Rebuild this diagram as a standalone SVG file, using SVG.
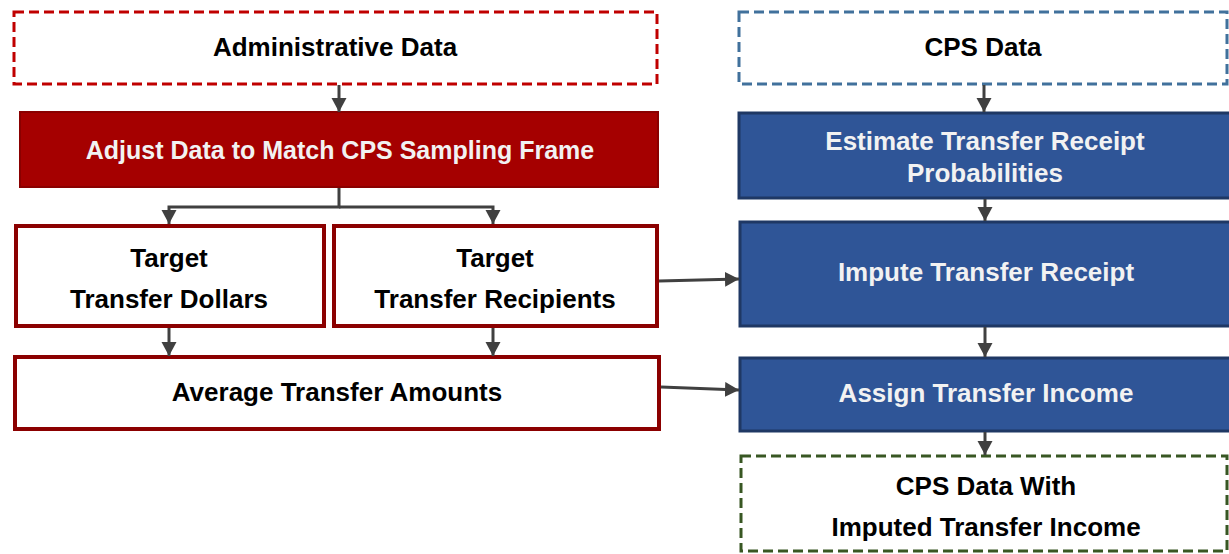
<svg xmlns="http://www.w3.org/2000/svg" width="1229" height="554" viewBox="0 0 1229 554">
  <style>
    .lbl { font-family: "Liberation Sans", Arial, sans-serif; font-weight: bold; font-size: 26px; text-anchor: middle; dominant-baseline: central; }
    .dark { fill: #000000; }
    .light { fill: #F2F2F2; }
    .dash { fill: #FFFFFF; stroke-width: 3; stroke-dasharray: 10 5; }
    .red-solid { fill: #A50000; stroke: #8A0000; stroke-width: 2; }
    .blue-solid { fill: #2F5597; stroke: #1F3864; stroke-width: 3; }
    .red-out { fill: #FFFFFF; stroke: #8B0000; stroke-width: 4; }
    .conn { fill: none; stroke: #404040; stroke-width: 3; marker-end: url(#arr); }
  </style>
  <defs>
    <marker id="arr" markerUnits="userSpaceOnUse" markerWidth="16" markerHeight="16" refX="14" refY="7.5" orient="auto">
      <path d="M0,0 L14,7.5 L0,15 z" fill="#404040"/>
    </marker>
  </defs>

  <g id="admin-data">
    <rect class="dash" x="14" y="12" width="643" height="72" stroke="#C00000"/>
    <text class="lbl dark" x="335" y="47">Administrative Data</text>
  </g>
  <g id="cps-data">
    <rect class="dash" x="739" y="12" width="488" height="72" stroke="#41719C"/>
    <text class="lbl dark" x="983" y="47">CPS Data</text>
  </g>
  <g id="adjust">
    <rect class="red-solid" x="20" y="112" width="638" height="75"/>
    <text class="lbl light" x="340" y="150" style="font-size:25px">Adjust Data to Match CPS Sampling Frame</text>
  </g>
  <g id="estimate">
    <rect class="blue-solid" x="739" y="113" width="492" height="85"/>
    <text class="lbl light" x="985" y="141">Estimate Transfer Receipt</text>
    <text class="lbl light" x="985" y="173">Probabilities</text>
  </g>
  <g id="target-dollars">
    <rect class="red-out" x="16" y="226" width="308" height="100"/>
    <text class="lbl dark" x="169" y="258">Target</text>
    <text class="lbl dark" x="169" y="299">Transfer Dollars</text>
  </g>
  <g id="target-recipients">
    <rect class="red-out" x="334" y="226" width="323" height="100"/>
    <text class="lbl dark" x="495" y="258">Target</text>
    <text class="lbl dark" x="495" y="299">Transfer Recipients</text>
  </g>
  <g id="impute">
    <rect class="blue-solid" x="740" y="222" width="491" height="104"/>
    <text class="lbl light" x="986" y="272">Impute Transfer Receipt</text>
  </g>
  <g id="average">
    <rect class="red-out" x="15" y="357" width="644" height="72"/>
    <text class="lbl dark" x="337" y="392">Average Transfer Amounts</text>
  </g>
  <g id="assign">
    <rect class="blue-solid" x="740" y="358" width="491" height="73"/>
    <text class="lbl light" x="986" y="393">Assign Transfer Income</text>
  </g>
  <g id="cps-imputed">
    <rect class="dash" x="741" y="456" width="486" height="95" stroke="#385723"/>
    <text class="lbl dark" x="986" y="486">CPS Data With</text>
    <text class="lbl dark" x="986" y="527">Imputed Transfer Income</text>
  </g>

  <g id="connectors">
    <path class="conn" d="M339,85 L339,112"/>
    <path class="conn" d="M984,85 L984,112"/>
    <path class="conn" d="M339,188 L339,207 L169,207 L169,224"/>
    <path class="conn" d="M339,207 L493,207 L493,224"/>
    <path class="conn" d="M985,199 L985,221"/>
    <path class="conn" d="M169,328 L169,356"/>
    <path class="conn" d="M493,328 L493,356"/>
    <path class="conn" d="M659,281 L739,279"/>
    <path class="conn" d="M985,327 L985,357"/>
    <path class="conn" d="M661,387 L739,390"/>
    <path class="conn" d="M985,432 L985,455"/>
  </g>
</svg>
